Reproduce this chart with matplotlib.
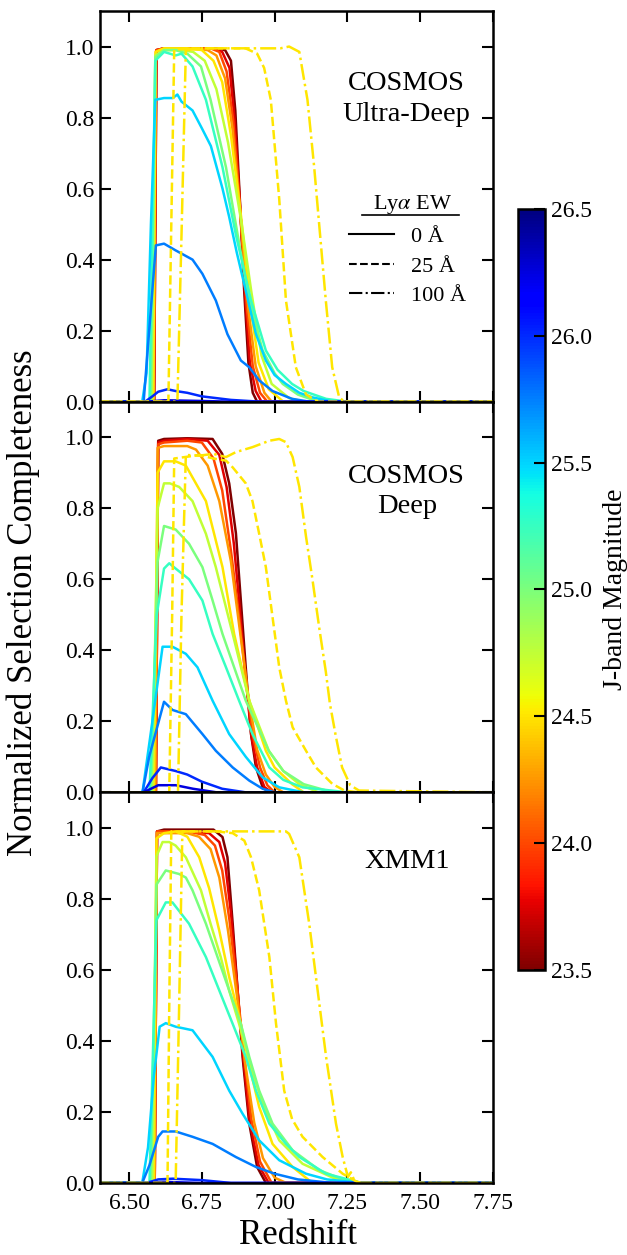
import numpy as np
import matplotlib
matplotlib.use('Agg')
import matplotlib.pyplot as plt
from matplotlib.lines import Line2D
from matplotlib.ticker import FormatStrFormatter, MultipleLocator

plt.rcParams['font.family'] = ['Liberation Serif', 'DejaVu Serif']
plt.rcParams['mathtext.fontset'] = 'stix'

mags = [23.5, 23.75, 24.0, 24.25, 24.5, 24.75, 25.0, 25.25, 25.5, 25.75, 26.0, 26.25]
ew_mag = 24.5

# ---- COSMOS Ultra-Deep, Lya EW = 0 A (one z / c list per magnitude)
ud_z = [
    [6.40, 6.586, 6.594, 6.62, 6.70, 6.80, 6.83, 6.85, 6.865, 6.88, 6.895, 6.91, 6.925, 6.94, 7.75],
    [6.40, 6.586, 6.594, 6.62, 6.70, 6.79, 6.82, 6.845, 6.862, 6.88, 6.90, 6.915, 6.935, 6.955, 7.75],
    [6.40, 6.585, 6.593, 6.62, 6.70, 6.78, 6.81, 6.835, 6.858, 6.88, 6.905, 6.925, 6.95, 6.975, 7.75],
    [6.40, 6.584, 6.592, 6.62, 6.70, 6.77, 6.80, 6.83, 6.855, 6.88, 6.91, 6.935, 6.965, 6.99, 7.75],
    [6.40, 6.583, 6.591, 6.62, 6.70, 6.75, 6.79, 6.82, 6.85, 6.885, 6.915, 6.945, 6.98, 7.03, 7.75],
    [6.40, 6.578, 6.59, 6.62, 6.68, 6.72, 6.76, 6.80, 6.84, 6.885, 6.92, 6.955, 6.99, 7.05, 7.10, 7.75],
    [6.40, 6.575, 6.59, 6.62, 6.66, 6.70, 6.747, 6.78, 6.833, 6.873, 6.913, 6.959, 7.0, 7.028, 7.08, 7.15, 7.75],
    [6.40, 6.57, 6.59, 6.62, 6.66, 6.68, 6.718, 6.764, 6.821, 6.867, 6.919, 6.97, 7.01, 7.06, 7.10, 7.177, 7.25, 7.75],
    [6.40, 6.545, 6.56, 6.575, 6.59, 6.62, 6.65, 6.666, 6.68, 6.718, 6.75, 6.781, 6.821, 6.844, 6.87, 6.896,
     6.936, 6.97, 7.0, 7.039, 7.085, 7.131, 7.2, 7.75],
    [6.40, 6.55, 6.569, 6.592, 6.62, 6.66, 6.718, 6.752, 6.798, 6.838, 6.884, 6.913, 6.947, 6.993, 7.06, 7.12, 7.75],
    [6.40, 6.555, 6.58, 6.60, 6.632, 6.66, 6.70, 6.75, 6.80, 6.85, 6.95, 7.75],
    [6.40, 6.56, 6.62, 6.75, 6.85, 7.75],
]
ud_c = [
    [0, 0, 0.99, 0.995, 0.995, 0.995, 0.99, 0.96, 0.82, 0.58, 0.32, 0.11, 0.025, 0, 0],
    [0, 0, 0.99, 0.995, 0.995, 0.995, 0.985, 0.94, 0.80, 0.57, 0.28, 0.11, 0.03, 0, 0],
    [0, 0, 0.99, 0.995, 0.995, 0.995, 0.985, 0.93, 0.79, 0.56, 0.26, 0.10, 0.025, 0, 0],
    [0, 0, 0.985, 0.995, 0.995, 0.99, 0.975, 0.91, 0.77, 0.55, 0.26, 0.10, 0.025, 0, 0],
    [0, 0, 0.985, 0.995, 0.995, 0.99, 0.96, 0.90, 0.75, 0.52, 0.28, 0.11, 0.035, 0, 0],
    [0, 0, 0.975, 0.99, 0.99, 0.985, 0.96, 0.88, 0.73, 0.51, 0.31, 0.13, 0.05, 0.01, 0, 0],
    [0, 0, 0.97, 0.99, 0.99, 0.98, 0.944, 0.85, 0.66, 0.47, 0.285, 0.144, 0.08, 0.05, 0.02, 0, 0],
    [0, 0, 0.96, 0.985, 0.975, 0.98, 0.944, 0.85, 0.66, 0.47, 0.285, 0.144, 0.09, 0.05, 0.03, 0.008, 0, 0],
    [0, 0, 0.08, 0.50, 0.85, 0.855, 0.855, 0.865, 0.845, 0.82, 0.77, 0.72, 0.60, 0.52, 0.42, 0.33,
     0.19, 0.116, 0.075, 0.05, 0.025, 0.012, 0, 0],
    [0, 0, 0.20, 0.44, 0.445, 0.426, 0.40, 0.36, 0.285, 0.19, 0.116, 0.097, 0.06, 0.03, 0.008, 0, 0],
    [0, 0, 0.015, 0.028, 0.035, 0.03, 0.025, 0.015, 0.01, 0.005, 0, 0],
    [0, 0, 0.004, 0.002, 0, 0],
]
ud_ew25_z = [6.40, 6.635, 6.645, 6.655, 6.70, 6.80, 6.90, 6.94, 6.964, 6.987, 7.016, 7.039, 7.073, 7.108, 7.15, 7.75]
ud_ew25_c = [0, 0, 0.5, 0.99, 0.995, 0.995, 0.995, 0.98, 0.94, 0.85, 0.57, 0.285, 0.097, 0.02, 0, 0]
ud_ew100_z = [6.40, 6.666, 6.681, 6.695, 6.75, 6.85, 6.95, 7.02, 7.05, 7.085, 7.113, 7.136, 7.156, 7.176,
              7.198, 7.222, 7.24, 7.75]
ud_ew100_c = [0, 0, 0.5, 0.99, 0.995, 0.995, 0.995, 0.995, 1.0, 0.985, 0.85, 0.661, 0.473, 0.285,
              0.097, 0.012, 0, 0]

# ---- COSMOS Deep
d_z = [
    [6.40, 6.592, 6.60, 6.62, 6.70, 6.787, 6.82, 6.844, 6.867, 6.884, 6.901, 6.919, 6.936, 6.959, 6.98, 7.75],
    [6.40, 6.592, 6.60, 6.62, 6.70, 6.77, 6.81, 6.835, 6.86, 6.88, 6.90, 6.92, 6.94, 6.965, 6.99, 7.75],
    [6.40, 6.592, 6.60, 6.62, 6.70, 6.75, 6.79, 6.82, 6.85, 6.88, 6.90, 6.925, 6.95, 6.975, 7.0, 7.75],
    [6.40, 6.59, 6.598, 6.62, 6.70, 6.73, 6.77, 6.81, 6.85, 6.88, 6.91, 6.94, 6.97, 7.0, 7.03, 7.75],
    [6.40, 6.585, 6.598, 6.62, 6.66, 6.695, 6.764, 6.821, 6.861, 6.913, 6.97, 7.0, 7.06, 7.1, 7.75],
    [6.40, 6.58, 6.598, 6.62, 6.64, 6.672, 6.718, 6.764, 6.798, 6.856, 6.913, 6.98, 7.03, 7.085, 7.15, 7.75],
    [6.40, 6.575, 6.598, 6.62, 6.66, 6.706, 6.752, 6.787, 6.821, 6.901, 6.98, 7.03, 7.10, 7.2, 7.75],
    [6.40, 6.57, 6.595, 6.62, 6.638, 6.66, 6.706, 6.752, 6.787, 6.833, 6.878, 6.924, 6.982, 7.03, 7.096, 7.25, 7.75],
    [6.40, 6.546, 6.58, 6.615, 6.649, 6.695, 6.735, 6.787, 6.844, 6.901, 6.959, 7.016, 7.1, 7.75],
    [6.40, 6.546, 6.569, 6.62, 6.649, 6.695, 6.752, 6.798, 6.856, 6.913, 6.959, 7.0, 7.75],
    [6.40, 6.55, 6.58, 6.609, 6.66, 6.70, 6.75, 6.82, 6.90, 7.75],
    [6.40, 6.55, 6.60, 6.66, 6.72, 6.80, 7.75],
]
d_c = [
    [0, 0, 0.99, 0.995, 0.997, 0.995, 0.953, 0.87, 0.73, 0.54, 0.35, 0.164, 0.07, 0.014, 0, 0],
    [0, 0, 0.985, 0.99, 0.995, 0.99, 0.95, 0.86, 0.70, 0.52, 0.33, 0.16, 0.07, 0.015, 0, 0],
    [0, 0, 0.98, 0.985, 0.99, 0.985, 0.94, 0.85, 0.68, 0.48, 0.33, 0.16, 0.07, 0.02, 0, 0],
    [0, 0, 0.97, 0.975, 0.975, 0.965, 0.92, 0.82, 0.65, 0.46, 0.27, 0.12, 0.05, 0.015, 0, 0],
    [0, 0, 0.90, 0.932, 0.932, 0.92, 0.82, 0.634, 0.446, 0.258, 0.117, 0.07, 0.023, 0, 0],
    [0, 0, 0.80, 0.87, 0.87, 0.86, 0.82, 0.728, 0.634, 0.446, 0.258, 0.117, 0.06, 0.023, 0, 0],
    [0, 0, 0.65, 0.75, 0.74, 0.70, 0.634, 0.54, 0.446, 0.258, 0.117, 0.06, 0.023, 0, 0],
    [0, 0, 0.50, 0.63, 0.645, 0.63, 0.60, 0.54, 0.446, 0.352, 0.258, 0.164, 0.07, 0.035, 0.014, 0, 0],
    [0, 0, 0.20, 0.41, 0.41, 0.39, 0.352, 0.258, 0.164, 0.10, 0.042, 0.014, 0, 0],
    [0, 0, 0.10, 0.255, 0.232, 0.22, 0.164, 0.117, 0.07, 0.033, 0.01, 0, 0],
    [0, 0, 0.04, 0.07, 0.06, 0.05, 0.03, 0.01, 0, 0],
    [0, 0, 0.02, 0.02, 0.01, 0, 0],
]
d_ew25_z = [6.40, 6.638, 6.648, 6.655, 6.70, 6.74, 6.79, 6.833, 6.856, 6.901, 6.924, 6.947, 6.97, 6.993, 7.016,
            7.039, 7.062, 7.108, 7.142, 7.198, 7.24, 7.29, 7.75]
d_ew25_c = [0, 0, 0.5, 0.94, 0.945, 0.95, 0.94, 0.934, 0.915, 0.87, 0.82, 0.728, 0.634, 0.493, 0.352,
            0.258, 0.183, 0.117, 0.07, 0.024, 0.005, 0, 0]
d_ew100_z = [6.40, 6.668, 6.68, 6.695, 6.74, 6.79, 6.833, 6.867, 6.924, 6.982, 7.016, 7.039, 7.062, 7.085,
             7.108, 7.13, 7.154, 7.176, 7.19, 7.21, 7.232, 7.26, 7.29, 7.75]
d_ew100_c = [0, 0, 0.5, 0.95, 0.948, 0.953, 0.944, 0.958, 0.972, 0.99, 0.995, 0.986, 0.944, 0.86,
             0.72, 0.60, 0.46, 0.34, 0.25, 0.16, 0.07, 0.02, 0.005, 0]

# ---- XMM1
x_z = [
    [6.40, 6.588, 6.596, 6.62, 6.70, 6.79, 6.821, 6.838, 6.856, 6.873, 6.89, 6.913, 6.94, 6.97, 7.75],
    [6.40, 6.588, 6.596, 6.62, 6.70, 6.775, 6.81, 6.83, 6.85, 6.87, 6.89, 6.915, 6.945, 6.98, 7.75],
    [6.40, 6.588, 6.596, 6.62, 6.70, 6.76, 6.795, 6.82, 6.845, 6.87, 6.895, 6.92, 6.95, 6.99, 7.75],
    [6.40, 6.587, 6.595, 6.62, 6.70, 6.74, 6.78, 6.81, 6.84, 6.87, 6.90, 6.93, 6.96, 7.00, 7.04, 7.75],
    [6.40, 6.585, 6.594, 6.62, 6.66, 6.70, 6.741, 6.775, 6.81, 6.844, 6.884, 6.919, 6.947, 6.993, 7.062, 7.13, 7.75],
    [6.40, 6.58, 6.594, 6.615, 6.638, 6.66, 6.695, 6.747, 6.78, 6.815, 6.844, 6.878, 6.924, 6.964, 7.016,
     7.096, 7.2, 7.3, 7.75],
    [6.40, 6.575, 6.594, 6.626, 6.672, 6.695, 6.718, 6.764, 6.804, 6.844, 6.884, 6.913, 6.947, 6.993, 7.062,
     7.154, 7.234, 7.3, 7.75],
    [6.40, 6.57, 6.594, 6.626, 6.649, 6.706, 6.764, 6.81, 6.856, 6.901, 6.936, 6.982, 7.039, 7.085, 7.177,
     7.3, 7.75],
    [6.40, 6.545, 6.565, 6.585, 6.605, 6.626, 6.66, 6.718, 6.787, 6.844, 6.89, 6.947, 7.016, 7.108, 7.18, 7.3, 7.75],
    [6.40, 6.545, 6.57, 6.60, 6.615, 6.66, 6.718, 6.787, 6.867, 6.936, 7.0, 7.08, 7.2, 7.75],
    [6.40, 6.56, 6.60, 6.65, 6.75, 6.85, 7.75],
    [6.40, 6.56, 6.62, 6.75, 7.75],
]
x_c = [
    [0, 0, 0.99, 0.995, 0.995, 0.995, 0.974, 0.917, 0.73, 0.542, 0.355, 0.167, 0.045, 0, 0],
    [0, 0, 0.99, 0.99, 0.99, 0.985, 0.96, 0.90, 0.76, 0.57, 0.37, 0.17, 0.05, 0, 0],
    [0, 0, 0.99, 0.99, 0.99, 0.98, 0.95, 0.88, 0.74, 0.56, 0.36, 0.18, 0.06, 0, 0],
    [0, 0, 0.985, 0.985, 0.985, 0.975, 0.94, 0.86, 0.71, 0.53, 0.33, 0.17, 0.07, 0.015, 0, 0],
    [0, 0, 0.97, 0.985, 0.99, 0.975, 0.917, 0.83, 0.71, 0.58, 0.448, 0.31, 0.214, 0.11, 0.045, 0, 0],
    [0, 0, 0.92, 0.96, 0.96, 0.95, 0.917, 0.824, 0.73, 0.636, 0.542, 0.448, 0.31, 0.214, 0.12,
     0.054, 0.015, 0, 0],
    [0, 0, 0.84, 0.88, 0.87, 0.86, 0.824, 0.73, 0.636, 0.542, 0.448, 0.355, 0.26, 0.167, 0.092,
     0.036, 0.01, 0, 0],
    [0, 0, 0.74, 0.79, 0.79, 0.73, 0.636, 0.542, 0.448, 0.355, 0.26, 0.167, 0.11, 0.073, 0.026, 0, 0],
    [0, 0, 0.10, 0.30, 0.44, 0.45, 0.44, 0.43, 0.355, 0.26, 0.195, 0.12, 0.064, 0.026, 0.01, 0, 0],
    [0, 0, 0.05, 0.13, 0.145, 0.145, 0.13, 0.11, 0.073, 0.045, 0.026, 0.01, 0, 0],
    [0, 0, 0.01, 0.012, 0.008, 0, 0],
    [0, 0, 0.003, 0, 0],
]
x_ew25_z = [6.40, 6.632, 6.638, 6.645, 6.70, 6.80, 6.856, 6.896, 6.919, 6.947, 6.982, 7.005, 7.033, 7.06,
            7.096, 7.165, 7.234, 7.29, 7.75]
x_ew25_c = [0, 0, 0.5, 0.99, 0.99, 0.99, 0.985, 0.964, 0.917, 0.824, 0.636, 0.448, 0.26, 0.18,
            0.13, 0.073, 0.026, 0, 0]
x_ew100_z = [6.40, 6.66, 6.672, 6.683, 6.75, 6.85, 6.95, 7.039, 7.05, 7.085, 7.119, 7.148, 7.177, 7.211,
             7.234, 7.252, 7.262, 7.275, 7.30, 7.75]
x_ew100_c = [0, 0, 0.5, 0.99, 0.99, 0.99, 0.99, 0.99, 0.983, 0.917, 0.73, 0.542, 0.355, 0.167,
             0.073, 0.017, 0.03, 0.005, 0, 0]

panels = [
    ('COSMOS\nUltra-Deep', 0.774, ud_z, ud_c, ud_ew25_z, ud_ew25_c, ud_ew100_z, ud_ew100_c),
    ('COSMOS\nDeep', 0.770, d_z, d_c, d_ew25_z, d_ew25_c, d_ew100_z, d_ew100_c),
    ('XMM1', 0.824, x_z, x_c, x_ew25_z, x_ew25_c, x_ew100_z, x_ew100_c),
]

cmap = plt.get_cmap('jet_r')
norm = matplotlib.colors.Normalize(vmin=23.5, vmax=26.5)

fig, axes = plt.subplots(3, 1, figsize=(6.27, 12.55), dpi=100, sharex=True)
fig.subplots_adjust(left=0.1595, right=0.786, top=0.9912, bottom=0.0574, hspace=0)

lw = 1.8
for ax, (name, ty, zs, cs, z25, c25, z100, c100) in zip(axes, panels):
    for m, z, c in zip(mags, zs, cs):
        ax.plot(z, c, color=cmap(norm(m)), lw=lw, solid_joinstyle='round')
    ax.plot(z25, c25, color=cmap(norm(ew_mag)), lw=lw, ls='--')
    ax.plot(z100, c100, color=cmap(norm(ew_mag)), lw=lw, ls='-.')

    ax.set_xlim(6.4, 7.75)
    ax.set_ylim(0, 1.1)
    ax.xaxis.set_major_locator(MultipleLocator(0.25))
    ax.xaxis.set_major_formatter(FormatStrFormatter('%.2f'))
    ax.set_yticks([0.0, 0.2, 0.4, 0.6, 0.8, 1.0])
    ax.yaxis.set_major_formatter(FormatStrFormatter('%.1f'))
    ax.tick_params(direction='in', top=True, right=True, length=8, width=1.5, labelsize=17)
    ax.tick_params(axis='y', pad=4)
    ax.tick_params(axis='x', pad=7)
    for sp in ax.spines.values():
        sp.set_linewidth(1.8)
    ax.text(0.781, ty, name, transform=ax.transAxes, ha='center', va='center',
            fontsize=20.5, linespacing=1.3)

# EW legend in the top panel
ax0 = axes[0]
handles = [Line2D([], [], color='k', lw=1.5, ls='-'),
           Line2D([], [], color='k', lw=1.5, ls='--'),
           Line2D([], [], color='k', lw=1.5, ls='-.')]
ax0.legend(handles, ['0 Å', '25 Å', '100 Å'], loc='upper left', bbox_to_anchor=(0.635, 0.448),
           frameon=False, fontsize=16, handlelength=2.0, handletextpad=0.75, labelspacing=0.4,
           borderpad=0, borderaxespad=0)
ax0.text(0.796, 0.505, r'Ly$\alpha$ EW', transform=ax0.transAxes, ha='center', va='center', fontsize=16)
ax0.plot([0.666, 0.914], [0.477, 0.477], transform=ax0.transAxes, color='k', lw=1.2, clip_on=False)

fig.text(0.475, 0.002, 'Redshift', ha='center', va='bottom', fontsize=25)
fig.text(0.037, 0.52, 'Normalized Selection Completeness', ha='center', va='center',
         rotation=90, fontsize=25)

# colorbar
cax = fig.add_axes([0.8257, 0.2271, 0.0435, 0.6064])
sm = matplotlib.cm.ScalarMappable(norm=norm, cmap=cmap)
cb = fig.colorbar(sm, cax=cax, ticks=[23.5, 24.0, 24.5, 25.0, 25.5, 26.0, 26.5])
cb.ax.yaxis.set_major_formatter(FormatStrFormatter('%.1f'))
cb.ax.tick_params(direction='in', length=8, width=1.5, labelsize=17, pad=4)
cb.outline.set_linewidth(1.8)
cb.set_label('J-band Magnitude', fontsize=20, labelpad=8)

fig.savefig('out.png', dpi=100)
